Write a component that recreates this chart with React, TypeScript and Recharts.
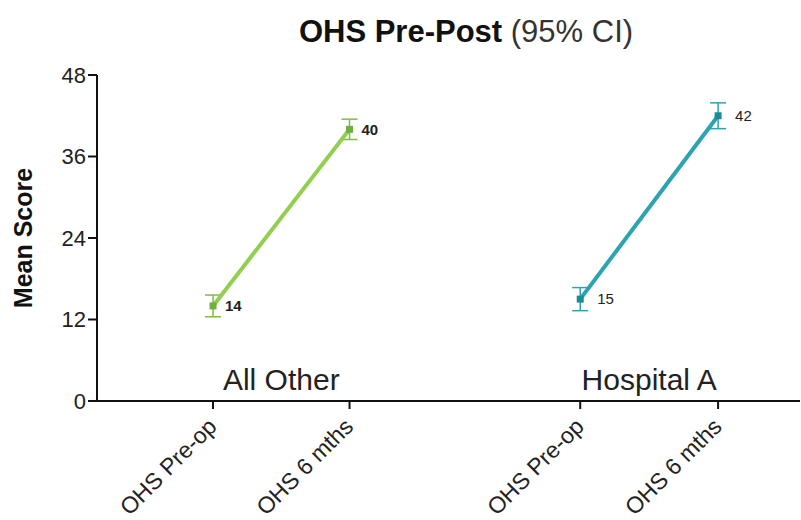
import React from 'react';
import { LineChart, Line, XAxis, YAxis, ErrorBar, LabelList, ReferenceArea } from 'recharts';

const tickLabels = ['OHS Pre-op', 'OHS 6 mths', 'OHS Pre-op', 'OHS 6 mths'];
const tickSlots = [1, 2, 3.69, 4.7];
const groups = ['All Other', 'Hospital A'];
const allOtherMeans = [14, 40];
const allOtherErr = [1.6, 1.5];
const hospitalMeans = [15, 42];
const hospitalErr = [1.7, 1.9];
const yTicks = [0, 12, 24, 36, 48];

const allOtherData = allOtherMeans.map((v, i) => ({ x: tickSlots[i], y: v, err: allOtherErr[i] }));
const hospitalData = hospitalMeans.map((v, i) => ({ x: tickSlots[i + 2], y: v, err: hospitalErr[i] }));

const FONT = 'Arial, "Liberation Sans", sans-serif';

const XTick = (props: any) => {
  const { x, y, payload } = props;
  const idx = tickSlots.indexOf(payload.value);
  const label = idx >= 0 ? tickLabels[idx] : '';
  const ax = x + 5;
  const ay = y + 17;
  return (
    <text
      x={ax}
      y={ay}
      transform={`rotate(-45, ${ax}, ${ay})`}
      textAnchor="end"
      fontFamily={FONT}
      fontSize={23}
      fill="#222"
    >
      {label}
    </text>
  );
};

const Square = (color: string) => (props: any) => {
  const { cx, cy } = props;
  if (cx == null || cy == null) return null;
  return <rect x={cx - 3.5} y={cy - 3.5} width={7} height={7} fill={color} />;
};

const YLabel = (props: any) => {
  const vb = props.viewBox;
  const cx = vb.x + 23;
  const cy = vb.y + vb.height / 2;
  return (
    <text
      x={cx}
      y={cy}
      transform={`rotate(-90, ${cx}, ${cy})`}
      textAnchor="middle"
      dominantBaseline="central"
      fontFamily={FONT}
      fontWeight="bold"
      fontSize={25}
      fill="#111"
    >
      Mean Score
    </text>
  );
};

export default function App() {
  return (
    <div style={{ position: 'absolute', left: 0, top: 0, width: 801, height: 520, background: '#fff' }}>
      <div
        style={{
          position: 'absolute',
          left: 0,
          width: 932,
          top: 16,
          textAlign: 'center',
          fontFamily: FONT,
          fontSize: 31,
          lineHeight: '31px',
          whiteSpace: 'nowrap',
        }}
      >
        <span style={{ fontWeight: 'bold', color: '#111' }}>OHS Pre-Post</span>
        <span style={{ color: '#333' }}> (95% CI)</span>
      </div>
      <LineChart
        width={801}
        height={520}
        margin={{ top: 75, right: 1, bottom: 0, left: 0 }}
        style={{ position: 'absolute', left: 0, top: 0 }}
      >
        <XAxis
          type="number"
          dataKey="x"
          domain={[0.15, 5.3]}
          ticks={tickSlots}
          interval={0}
          allowDuplicatedCategory={false}
          tick={<XTick />}
          tickSize={8}
          tickMargin={2}
          height={119}
          axisLine={{ stroke: '#111', strokeWidth: 2 }}
          tickLine={{ stroke: '#111', strokeWidth: 2 }}
        />
        <YAxis
          type="number"
          domain={[0, 48]}
          ticks={yTicks}
          width={97}
          tickSize={9}
          tickMargin={2}
          axisLine={{ stroke: '#111', strokeWidth: 2 }}
          tickLine={{ stroke: '#111', strokeWidth: 2 }}
          tick={{ fontFamily: FONT, fontSize: 22, fill: '#222' }}
          label={<YLabel />}
        />
        <ReferenceArea
          x1={tickSlots[0]}
          x2={tickSlots[1]}
          y1={0}
          y2={6}
          fill="none"
          stroke="none"
          label={{ value: groups[0], position: 'insideBottom', offset: 11, fontFamily: FONT, fontSize: 30, fill: '#222' }}
        />
        <ReferenceArea
          x1={tickSlots[2]}
          x2={tickSlots[3]}
          y1={0}
          y2={6}
          fill="none"
          stroke="none"
          label={{ value: groups[1], position: 'insideBottom', offset: 11, fontFamily: FONT, fontSize: 30, fill: '#222' }}
        />
        <Line
          data={allOtherData}
          dataKey="y"
          stroke="#92CF4E"
          strokeWidth={4}
          dot={Square('#6EB13A')}
          activeDot={false}
          isAnimationActive={false}
        >
          <ErrorBar dataKey="err" direction="y" width={8} stroke="#7DBE45" strokeWidth={1.5} />
          <LabelList dataKey="y" position="right" offset={12} fontFamily={FONT} fontWeight="bold" fontSize={15} fill="#222" />
        </Line>
        <Line
          data={hospitalData}
          dataKey="y"
          stroke="#2CA3B0"
          strokeWidth={4}
          dot={Square('#1D8C96')}
          activeDot={false}
          isAnimationActive={false}
        >
          <ErrorBar dataKey="err" direction="y" width={8} stroke="#2CA3B0" strokeWidth={1.5} />
          <LabelList dataKey="y" position="right" offset={17} fontFamily={FONT} fontSize={15} fill="#222" />
        </Line>
      </LineChart>
    </div>
  );
}
